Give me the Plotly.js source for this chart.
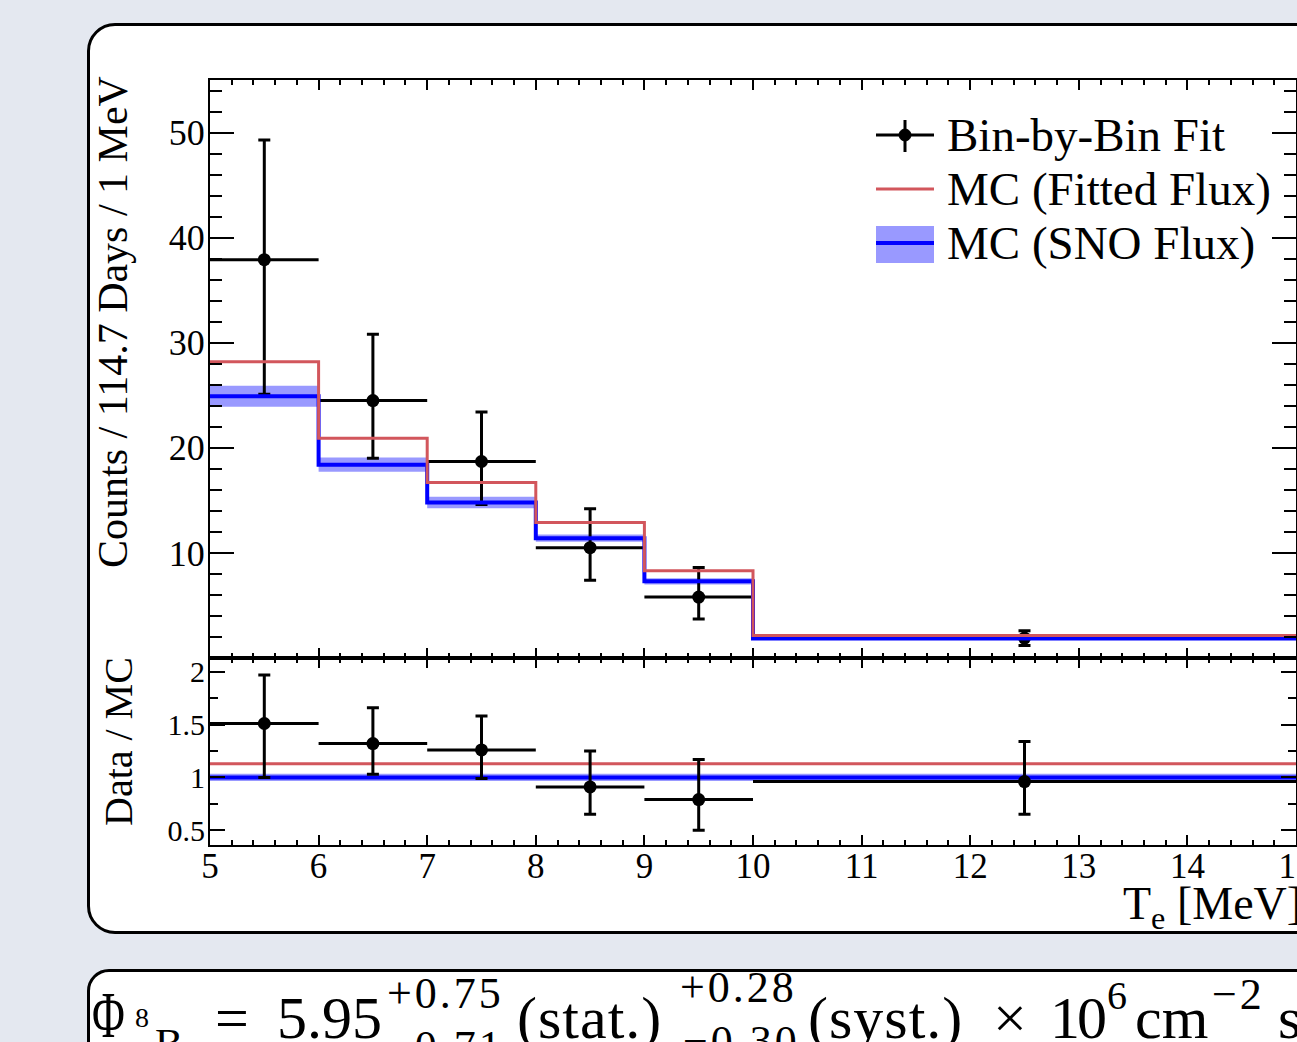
<!DOCTYPE html>
<html>
<head>
<meta charset="utf-8">
<script src="https://cdn.plot.ly/plotly-3.0.1.min.js"></script>
<style>
  html, body { margin:0; padding:0; width:1297px; height:1042px; overflow:hidden; background:#e4e8f0; }
  #box1 { position:absolute; left:87px; top:23px; width:1400px; height:905px; border:3px solid #000; border-radius:28px; background:#fff; }
  #box2 { position:absolute; left:87px; top:969px; width:1400px; height:200px; border:3px solid #000; border-radius:22px; background:#fff; }
  #chart { position:absolute; left:0; top:0; width:1330px; height:1042px; }
  .f { position:absolute; font-family:"Liberation Serif","Times New Roman",serif; line-height:1; white-space:nowrap; color:#000; }
  .big { font-size:60px; top:988px; }
  .sc { font-size:44px; letter-spacing:3px; }
</style>
</head>
<body>
<div id="box1"></div>
<div id="box2"></div>
<div id="chart"></div>
<div id="formula">
  <span class="f" style="left:92px; top:982px; font-size:66px; transform:scaleX(0.68); transform-origin:left center;">Φ</span>
  <span class="f" style="left:135px; top:1004px; font-size:28px;">8</span>
  <span class="f" style="left:155px; top:1023px; font-size:42px;">B</span>
  <span class="f big" style="left:215px;">=</span>
  <span class="f big" style="left:277px;">5.95</span>
  <span class="f sc" style="left:387px; top:972px;">+0.75</span>
  <span class="f sc" style="left:387px; top:1025px;">−0.71</span>
  <span class="f big" style="left:517px; letter-spacing:1px;">(stat.)</span>
  <span class="f sc" style="left:680px; top:966px;">+0.28</span>
  <span class="f sc" style="left:683px; top:1020px;">−0.30</span>
  <span class="f big" style="left:808px; letter-spacing:1px;">(syst.)</span>
  <span class="f big" style="left:993px;">×</span>
  <span class="f big" style="left:1050px; letter-spacing:-3px;">10</span>
  <span class="f" style="left:1107px; top:976px; font-size:40px;">6</span>
  <span class="f big" style="left:1135px;">cm</span>
  <span class="f sc" style="left:1212px; top:973px;">−2</span>
  <span class="f big" style="left:1278px;">s</span>
</div>
<script>
// ---------------- data ----------------
const binEdges      = [5, 6, 7, 8, 9, 10, 15];
const fitCounts     = [37.9, 24.5, 18.7, 10.5, 5.8, 1.9];
const fitErrUp      = [11.4, 6.3, 4.7, 3.7, 2.8, 0.7];
const fitErrDown    = [12.8, 5.5, 4.1, 3.1, 2.1, 0.7];
const mcFitted      = [28.2, 20.9, 16.7, 12.9, 8.3, 2.15];
const mcSno         = [24.9, 18.4, 14.8, 11.4, 7.3, 1.85];
const mcSnoErr      = [1.0, 0.67, 0.54, 0.35, 0.3, 0.1];
const ratioData     = [1.51, 1.32, 1.26, 0.91, 0.79, 0.96];
const ratioErrUp    = [0.46, 0.34, 0.32, 0.34, 0.38, 0.38];
const ratioErrDown  = [0.51, 0.29, 0.27, 0.26, 0.29, 0.31];
const ratioFitted   = [1.13, 1.13, 1.13, 1.13, 1.13, 1.13];
const ratioSno      = [1, 1, 1, 1, 1, 1];
const ratioSnoErr   = [0.035, 0.035, 0.035, 0.035, 0.035, 0.035];
const xTickVals     = [5, 6, 7, 8, 9, 10, 11, 12, 13, 14, 15];
const yTopTicks     = [10, 20, 30, 40, 50];
const yRatioTicks   = [0.5, 1, 1.5, 2];
const yRatioLabels  = ['0.5', '1', '1.5', '2'];
const legendLabels  = ['Bin-by-Bin Fit', 'MC (Fitted Flux)', 'MC (SNO Flux)'];

// -------------- helpers ---------------
const centers = binEdges.slice(0, -1).map((e, i) => (e + binEdges[i + 1]) / 2);
const halfW   = binEdges.slice(0, -1).map((e, i) => (binEdges[i + 1] - e) / 2);
const stepY   = v => v.concat([v[v.length - 1]]);
const addV    = (a, b, s) => a.map((v, i) => v + s * b[i]);

const RED = '#d2565c', BLUE = '#0000ff', BAND = 'rgba(0,0,255,0.4)';
const FONT = 'Liberation Serif, Times New Roman, serif';

function stepTrace(vals, color, width, xa, ya) {
  return { x: binEdges, y: stepY(vals), mode: 'lines', line: { shape: 'hv', color: color, width: width },
           xaxis: xa, yaxis: ya, showlegend: false, hoverinfo: 'skip' };
}
function band(vals, errs, xa, ya) {
  return [
    { x: binEdges, y: stepY(addV(vals, errs, -1)), mode: 'lines', line: { shape: 'hv', width: 0 },
      xaxis: xa, yaxis: ya, showlegend: false, hoverinfo: 'skip' },
    { x: binEdges, y: stepY(addV(vals, errs, 1)), mode: 'lines', line: { shape: 'hv', width: 0 },
      fill: 'tonexty', fillcolor: BAND, xaxis: xa, yaxis: ya, showlegend: false, hoverinfo: 'skip' }
  ];
}
function points(vals, up, down, xa, ya) {
  return { x: centers, y: vals, mode: 'markers', xaxis: xa, yaxis: ya, showlegend: false,
    marker: { color: '#000', size: 13, symbol: 'circle' },
    error_y: { type: 'data', symmetric: false, array: up, arrayminus: down, color: '#000', thickness: 3, width: 6 },
    error_x: { type: 'data', array: halfW, color: '#000', thickness: 3, width: 0 } };
}

const traces = [].concat(
  band(mcSno, mcSnoErr, 'x', 'y'),
  [points(fitCounts, fitErrUp, fitErrDown, 'x', 'y'),
   stepTrace(mcSno, BLUE, 4, 'x', 'y'), stepTrace(mcFitted, RED, 3, 'x', 'y')],
  band(ratioSno, ratioSnoErr, 'x2', 'y2'),
  [stepTrace(ratioSno, BLUE, 4, 'x2', 'y2'), stepTrace(ratioFitted, RED, 3, 'x2', 'y2'),
   points(ratioData, ratioErrUp, ratioErrDown, 'x2', 'y2')]
);

// -------------- layout ----------------
const W = 1330, H = 1042;
const L = 210, R = W - 1296, T = 80, B = H - 845;
const plotW = W - L - R, plotH = H - T - B;
const px = x => (x - L) / plotW;          // page pixel -> paper x
const py = y => (H - B - y) / plotH;      // page pixel -> paper y
const split = (845 - 658) / plotH;

const xBase = {
  range: [5, 15], tickvals: xTickVals, ticks: 'inside', ticklen: 10, tickwidth: 2, tickcolor: '#000',
  showline: true, linecolor: '#000', linewidth: 2, mirror: 'allticks', showgrid: false, zeroline: false,
  minor: { dtick: 0.2, tick0: 5, ticks: 'inside', ticklen: 5, tickwidth: 2, tickcolor: '#000', showgrid: false },
  tickfont: { family: FONT, size: 35, color: '#000' }, ticklabelstandoff: -11
};

const layout = {
  width: W, height: H, margin: { l: L, r: R, t: T, b: B, pad: 0 },
  paper_bgcolor: 'rgba(0,0,0,0)', plot_bgcolor: '#fff', showlegend: false,
  xaxis: Object.assign({}, xBase, { anchor: 'y', showticklabels: false }),
  xaxis2: Object.assign({}, xBase, { anchor: 'y2', matches: 'x', showticklabels: true }),
  yaxis: {
    domain: [split, 1], range: [0, 55], tickvals: yTopTicks, ticks: 'inside', ticklen: 24, tickwidth: 2,
    tickcolor: '#000', showline: true, linecolor: '#000', linewidth: 2, mirror: 'allticks', showgrid: false,
    zeroline: false, tickfont: { family: FONT, size: 36, color: '#000' }, ticklabelstandoff: -4,
    minor: { dtick: 2, tick0: 0, ticks: 'inside', ticklen: 12, tickwidth: 2, tickcolor: '#000', showgrid: false }
  },
  yaxis2: {
    domain: [0, split], range: [0.36, 2.13], tickvals: yRatioTicks, ticktext: yRatioLabels, ticks: 'inside',
    ticklen: 15, tickwidth: 2, tickcolor: '#000', showline: true, linecolor: '#000', linewidth: 2,
    mirror: 'allticks', showgrid: false, zeroline: false, tickfont: { family: FONT, size: 30, color: '#000' },
    ticklabelstandoff: -3,
    minor: { dtick: 0.25, tick0: 0, ticks: 'inside', ticklen: 8, tickwidth: 2, tickcolor: '#000', showgrid: false }
  },
  annotations: [
    { text: 'Counts / 114.7 Days / 1 MeV', xref: 'paper', yref: 'paper', x: px(113), y: py(322),
      xanchor: 'center', yanchor: 'middle', textangle: -90, showarrow: false, font: { family: FONT, size: 42, color: '#000' } },
    { text: 'Data / MC', xref: 'paper', yref: 'paper', x: px(118), y: py(742),
      xanchor: 'center', yanchor: 'middle', textangle: -90, showarrow: false, font: { family: FONT, size: 40, color: '#000' } },
    { text: 'T<sub>e</sub> [MeV]', xref: 'paper', yref: 'paper', x: px(1304), y: py(907),
      xanchor: 'right', yanchor: 'middle', showarrow: false, font: { family: FONT, size: 46, color: '#000' } },
    { text: legendLabels[0], xref: 'paper', yref: 'paper', x: px(945), y: py(135), xanchor: 'left', yanchor: 'middle',
      showarrow: false, font: { family: FONT, size: 47, color: '#000' } },
    { text: legendLabels[1], xref: 'paper', yref: 'paper', x: px(945), y: py(189), xanchor: 'left', yanchor: 'middle',
      showarrow: false, font: { family: FONT, size: 47, color: '#000' } },
    { text: legendLabels[2], xref: 'paper', yref: 'paper', x: px(945), y: py(243), xanchor: 'left', yanchor: 'middle',
      showarrow: false, font: { family: FONT, size: 47, color: '#000' } }
  ],
  shapes: [
    // legend: Bin-by-Bin Fit
    { type: 'line', xref: 'paper', yref: 'paper', x0: px(876), x1: px(934), y0: py(135), y1: py(135), line: { color: '#000', width: 3 } },
    { type: 'line', xref: 'paper', yref: 'paper', x0: px(905), x1: px(905), y0: py(120), y1: py(152), line: { color: '#000', width: 3 } },
    { type: 'circle', xref: 'paper', yref: 'paper', x0: px(899), x1: px(911), y0: py(129), y1: py(141), fillcolor: '#000', line: { color: '#000', width: 1 } },
    // legend: MC (Fitted Flux)
    { type: 'line', xref: 'paper', yref: 'paper', x0: px(876), x1: px(934), y0: py(189), y1: py(189), line: { color: RED, width: 3 } },
    // legend: MC (SNO Flux)
    { type: 'rect', xref: 'paper', yref: 'paper', x0: px(876), x1: px(934), y0: py(226), y1: py(263), fillcolor: BAND, line: { width: 0 } },
    { type: 'line', xref: 'paper', yref: 'paper', x0: px(876), x1: px(934), y0: py(243), y1: py(243), line: { color: BLUE, width: 4 } }
  ]
};

Plotly.newPlot('chart', traces, layout, { staticPlot: true, displayModeBar: false });
</script>
</body>
</html>
